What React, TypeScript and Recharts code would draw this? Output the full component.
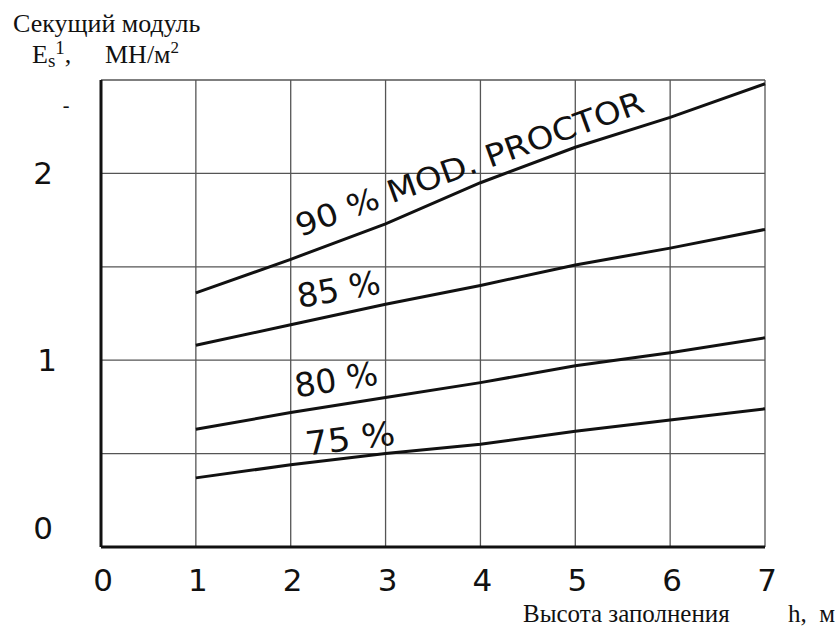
import React from 'react';
import {
  LineChart, Line, XAxis, YAxis, CartesianGrid, ReferenceDot,
} from 'recharts';

// fill height h, m
const heights = [1, 2, 3, 4, 5, 6, 7];
// secant modulus Es1, MN/m2, per compaction degree
const e90 = [1.36, 1.54, 1.73, 1.95, 2.14, 2.3, 2.48];
const e85 = [1.08, 1.19, 1.3, 1.4, 1.51, 1.6, 1.7];
const e80 = [0.63, 0.72, 0.8, 0.88, 0.97, 1.04, 1.12];
const e75 = [0.37, 0.44, 0.5, 0.55, 0.62, 0.68, 0.74];

const xTicks = [0, 1, 2, 3, 4, 5, 6, 7];
const yTicks = [0, 0.5, 1, 1.5, 2, 2.5];

const curveLabels = [
  { text: '90 % MOD. PROCTOR', h: 2.1, e: 1.66, tilt: -20, len: 368, size: 31 },
  { text: '85 %', h: 2.09, e: 1.28, tilt: -10, len: 84, size: 33 },
  { text: '80 %', h: 2.06, e: 0.8, tilt: -9, len: 84, size: 33 },
  { text: '75 %', h: 2.17, e: 0.49, tilt: -7, len: 90, size: 33 },
];

const data = heights.map((h, i) => ({ h, e90: e90[i], e85: e85[i], e80: e80[i], e75: e75[i] }));

const tickFont = '"DejaVu Sans", sans-serif';
const serif = '"Liberation Serif", "Times New Roman", serif';

function XTick({ x, y, payload }: any) {
  return (
    <text x={x + 2} y={y} dy={36} textAnchor="middle" fontFamily={tickFont} fontSize={31} fill="#111">
      {payload.value}
    </text>
  );
}

function YTick({ x, y, payload }: any) {
  const v = payload.value;
  if (v === 2.5) {
    // stray dash just under the top frame
    return <text x={x - 27} y={y + 33} textAnchor="middle" fontFamily={tickFont} fontSize={20} fill="#111">-</text>;
  }
  if (v % 1 !== 0) return null;
  return (
    <text x={x - (v === 1 ? 46 : 50)} y={y} dy={v === 0 ? -8 : 11} textAnchor="middle" fontFamily={tickFont} fontSize={31} fill="#111">
      {v}
    </text>
  );
}

function CurveLabel({ viewBox, text, tilt, len, size }: any) {
  const { x, y } = viewBox;
  return (
    <text
      x={x}
      y={y}
      transform={`rotate(${tilt} ${x} ${y})`}
      textLength={len}
      lengthAdjust="spacingAndGlyphs"
      fontFamily={tickFont}
      fontSize={size}
      fill="#111"
    >
      {text}
    </text>
  );
}

const titleStyle: React.CSSProperties = {
  position: 'absolute', fontFamily: serif, fontSize: 26, lineHeight: '26px', color: '#111', whiteSpace: 'pre',
};

export default function App() {
  return (
    <div style={{ position: 'absolute', left: 0, top: 0, width: 838, height: 631, background: '#fff', overflow: 'hidden' }}>
      <div style={{ ...titleStyle, left: 13, top: 11 }}>Секущий модуль</div>
      <div style={{ ...titleStyle, left: 32, top: 35 }}>
        E<sub style={{ fontSize: 19, verticalAlign: -4 }}>s</sub><sup style={{ fontSize: 19, verticalAlign: 9 }}>1</sup>,
      </div>
      <div style={{ ...titleStyle, left: 105, top: 35 }}>
        МН/м<sup style={{ fontSize: 17, verticalAlign: 10 }}>2</sup>
      </div>
      <div style={{ ...titleStyle, fontSize: 25, lineHeight: '24px', left: 523, top: 602 }}>Высота заполнения</div>
      <div style={{ ...titleStyle, fontSize: 25, lineHeight: '24px', left: 788, top: 602 }}>h,  м</div>
      <LineChart width={838} height={631} data={data} margin={{ top: 80, right: 73, left: 41, bottom: 44 }}>
        <CartesianGrid stroke="#555" strokeWidth={1.3} horizontalValues={yTicks} verticalValues={xTicks} />
        <XAxis
          type="number"
          dataKey="h"
          domain={[0, 7]}
          ticks={xTicks}
          height={40}
          tickLine={false}
          tick={<XTick />}
          axisLine={{ stroke: '#111', strokeWidth: 3 }}
        />
        <YAxis
          type="number"
          domain={[0, 2.5]}
          ticks={yTicks}
          width={60}
          tickLine={false}
          tick={<YTick />}
          axisLine={{ stroke: '#111', strokeWidth: 3 }}
        />
        <Line dataKey="e90" stroke="#111" strokeWidth={3} dot={false} isAnimationActive={false} />
        <Line dataKey="e85" stroke="#111" strokeWidth={3} dot={false} isAnimationActive={false} />
        <Line dataKey="e80" stroke="#111" strokeWidth={3} dot={false} isAnimationActive={false} />
        <Line dataKey="e75" stroke="#111" strokeWidth={3} dot={false} isAnimationActive={false} />
        {curveLabels.map((c) => (
          <ReferenceDot
            key={c.text}
            x={c.h}
            y={c.e}
            r={0}
            fill="none"
            stroke="none"
            label={<CurveLabel text={c.text} tilt={c.tilt} len={c.len} size={c.size} />}
          />
        ))}
      </LineChart>
    </div>
  );
}
